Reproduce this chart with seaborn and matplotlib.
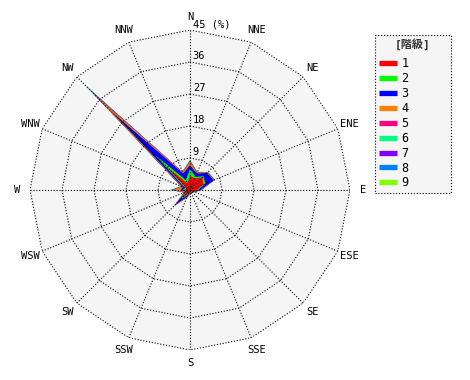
import numpy as np
import matplotlib
matplotlib.use("Agg")
import matplotlib.pyplot as plt
from matplotlib.lines import Line2D
import seaborn as sns

# ---------------- data ----------------
directions = ["N", "NNE", "NE", "ENE", "E", "ESE", "SE", "SSE",
              "S", "SSW", "SW", "WSW", "W", "WNW", "NW", "NNW"]
class_labels = ["1", "2", "3", "4", "5", "6", "7", "8", "9"]
class1 = [4.0, 3.5, 5.0, 4.0, 2.0, 1.0, 0.6, 0.6, 0.8, 1.2, 3.0, 0.8, 1.5, 1.2, 9.0, 2.0]
class2 = [2.0, 0.5, 0.5, 0.6, 0.3, 0.1, 0.1, 0.1, 0.1, 0.3, 0.8, 0.2, 0.5, 0.4, 5.0, 1.0]
class3 = [1.0, 1.0, 1.3, 2.6, 0.7, 0.2, 0.1, 0.1, 0.1, 0.5, 2.0, 0.3, 0.6, 0.6, 17.0, 2.0]
class4 = [0.8, 0.2, 0.1, 0.1, 0.1, 0.1, 0.05, 0.05, 0.1, 0.2, 0.2, 0.3, 1.9, 0.3, 6.0, 0.3]
class5 = [0.2, 0.1, 0.05, 0.05, 0.05, 0.05, 0.02, 0.02, 0.05, 0.1, 0.05, 0.1, 0.2, 0.1, 2.0, 0.1]
class6 = [0.1, 0.05, 0.05, 0.05, 0.05, 0.02, 0.02, 0.02, 0.02, 0.05, 0.05, 0.05, 0.1, 0.05, 1.0, 0.05]
class7 = [0.1, 0.05, 0.05, 0.05, 0.02, 0.02, 0.02, 0.02, 0.02, 0.05, 0.05, 0.05, 0.1, 0.05, 1.0, 0.05]
class8 = [0.1, 0.05, 0.05, 0.05, 0.02, 0.02, 0.02, 0.02, 0.02, 0.05, 0.05, 0.05, 0.6, 0.05, 0.8, 0.05]
class9 = [0.3, 0.1, 0.2, 0.2, 0.05, 0.02, 0.02, 0.02, 0.02, 0.05, 0.1, 0.05, 0.1, 0.05, 0.6, 0.1]
ring_values = [9, 18, 27, 36, 45]
ring_labels = ["9", "18", "27", "36", "45 (%)"]
colors = ["#ff0000", "#00ff00", "#0000ff", "#ff8000", "#ff0080",
          "#00ff80", "#8000ff", "#0080ff", "#80ff00"]

# ---------------- style ----------------
sns.set_style("white")
plt.rcParams["font.family"] = ["DejaVu Sans Mono", "Noto Sans CJK JP"]
plt.rcParams["text.color"] = "black"

classes = np.array([class1, class2, class3, class4, class5,
                    class6, class7, class8, class9])
cum = np.cumsum(classes, axis=0)

fig = plt.figure(figsize=(4.7, 3.8), dpi=100)
ax = fig.add_axes([30 / 470, 30 / 380, 320 / 470, 320 / 380], projection="polar")
ax.set_theta_zero_location("N")
ax.set_theta_direction(-1)
ax.set_ylim(0, 45)
ax.axis("off")

theta = np.deg2rad(np.arange(len(directions)) * 22.5)
tc = np.append(theta, theta[0])
rmax = ring_values[-1]

# background polygon
ax.fill(tc, np.full(len(tc), rmax), color="#f5f5f5", lw=0, zorder=0)

# stacked (cumulative) layers, largest first
for k in range(len(class_labels) - 1, -1, -1):
    r = np.append(cum[k], cum[k][0])
    ax.fill(tc, r, color=colors[k], lw=0, zorder=2)

# polygon grid
grid_kw = dict(color="black", lw=0.8, dashes=(1, 1.6), zorder=5)
for rv in ring_values:
    ax.plot(tc, np.full(len(tc), rv), **grid_kw)
for t in theta:
    ax.plot([t, t], [0, rmax], **grid_kw)

# ring labels
for rv, lab in zip(ring_values, ring_labels):
    ax.annotate(lab, xy=(0, rv), xytext=(2, 0.5), textcoords="offset points",
                ha="left", va="bottom", fontsize=7.5, color="black", zorder=6)

# direction labels
for t, name in zip(theta, directions):
    ax.text(t, 48.6, name, ha="center", va="center", fontsize=7.5,
            color="black", clip_on=False)

# legend
handles = [Line2D([0], [0], color=c, lw=3.8, solid_capstyle="butt") for c in colors]
leg = fig.legend(handles, class_labels, title="[階級]",
                 loc="upper left",
                 bbox_to_anchor=(375 / 470, 1 - 196 / 380, 76 / 470, 161 / 380),
                 mode="expand", borderaxespad=0, fontsize=8.5, title_fontsize=8,
                 handlelength=1.6, handletextpad=0.35, labelspacing=0.16,
                 borderpad=0.3, fancybox=False, frameon=True)
leg._legend_box.sep = 5.0
leg.get_title().set_color("#333333")
leg.get_title().set_fontweight("bold")
fr = leg.get_frame()
fr.set_facecolor("#f5f5f5")
fr.set_edgecolor("black")
fr.set_linestyle(":")
fr.set_linewidth(0.8)
fr.set_alpha(1)

fig.savefig("out.png", dpi=100)
